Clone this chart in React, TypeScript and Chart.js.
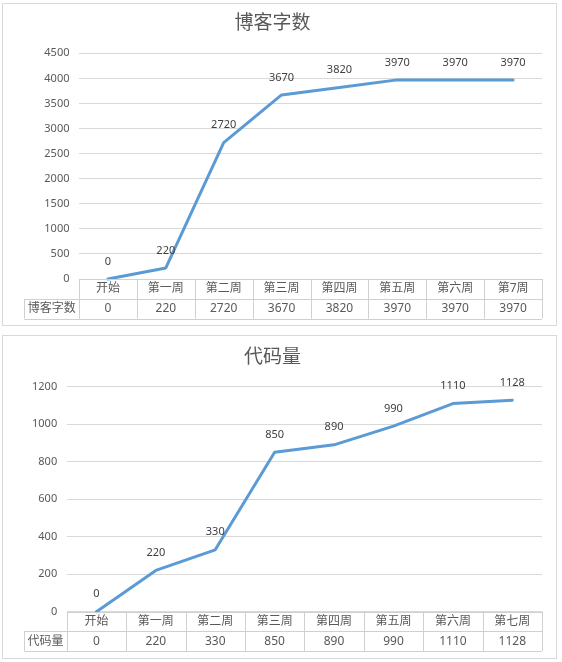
import { useEffect, useRef } from "react"
import { Chart, registerables } from "chart.js"

// Register Chart.js components
Chart.register(...registerables)

const blogWeeks = ["开始", "第一周", "第二周", "第三周", "第四周", "第五周", "第六周", "第7周"]
const blogWords = [0, 220, 2720, 3670, 3820, 3970, 3970, 3970]

const codeWeeks = ["开始", "第一周", "第二周", "第三周", "第四周", "第五周", "第六周", "第七周"]
const codeLines = [0, 220, 330, 850, 890, 990, 1110, 1128]

const FONT = "'Noto Sans', 'Noto Sans CJK SC', sans-serif"
const TEXT = "#595959"
const LABEL = "#404040"
const GRID = "#d9d9d9"
const TABLE_LINE = "#d0d0d0"
const LINE = "#5b9bd5"

const px = (v: number) => Math.round(v) + 0.5

// value labels above each point
const pointLabels = {
    id: "pointLabels",
    afterDatasetsDraw(chart: any) {
        const { ctx } = chart
        const meta = chart.getDatasetMeta(0)
        const values = chart.data.datasets[0].data as number[]
        ctx.save()
        ctx.fillStyle = LABEL
        ctx.font = `11px ${FONT}`
        ctx.textAlign = "center"
        ctx.textBaseline = "middle"
        meta.data.forEach((pt: any, i: number) => {
            ctx.fillText(String(values[i]), pt.x, pt.y - 17.5)
        })
        ctx.restore()
    },
}

// Excel-style data table under the plot
const dataTable = {
    id: "dataTable",
    afterDraw(chart: any, _args: any, opts: any) {
        const { ctx, chartArea } = chart
        const labels = chart.data.labels as string[]
        const values = chart.data.datasets[0].data as number[]
        const xScale = chart.scales.x
        const n = labels.length
        const colW = (chartArea.right - chartArea.left) / n
        const rowH = opts.rowHeight
        const top = chartArea.bottom
        const mid = top + rowH
        const bottom = mid + rowH
        const left = opts.headerLeft

        ctx.save()
        ctx.strokeStyle = TABLE_LINE
        ctx.lineWidth = 1
        ctx.beginPath()
        ctx.moveTo(chartArea.left, px(top))
        ctx.lineTo(chartArea.right, px(top))
        ctx.moveTo(left, px(mid))
        ctx.lineTo(chartArea.right, px(mid))
        ctx.moveTo(left, px(bottom))
        ctx.lineTo(chartArea.right, px(bottom))
        ctx.moveTo(px(left), mid)
        ctx.lineTo(px(left), bottom)
        for (let k = 0; k <= n; k++) {
            const x = px(chartArea.left + k * colW)
            ctx.moveTo(x, top)
            ctx.lineTo(x, bottom)
        }
        ctx.stroke()

        ctx.fillStyle = TEXT
        ctx.font = `12px ${FONT}`
        ctx.textAlign = "center"
        ctx.textBaseline = "middle"
        labels.forEach((label, i) => {
            const cx = xScale.getPixelForValue(i)
            ctx.fillText(label, cx, top + rowH / 2)
            ctx.fillText(String(values[i]), cx, mid + rowH / 2)
        })
        ctx.fillText(opts.rowName, (left + chartArea.left) / 2, mid + rowH / 2)
        ctx.restore()
    },
}

interface LineTableProps {
    title: string
    labels: string[]
    values: number[]
    max: number
    step: number
    top: number
    height: number
    axisWidth: number
    titleTop: number
    titleBottom: number
    bottomPad: number
    rowHeight: number
}

function LineTableChart(props: LineTableProps) {
    const chartRef = useRef<HTMLCanvasElement | null>(null)
    const chartInstance = useRef<Chart | null>(null)

    useEffect(() => {
        if (!chartRef.current) return
        if (chartInstance.current) chartInstance.current.destroy()
        const ctx = chartRef.current.getContext("2d")
        if (!ctx) return

        chartInstance.current = new Chart(ctx, {
            type: "line",
            data: {
                labels: props.labels,
                datasets: [
                    {
                        label: props.title,
                        data: props.values,
                        borderColor: LINE,
                        backgroundColor: LINE,
                        borderWidth: 3,
                        pointRadius: 0,
                        tension: 0,
                        fill: false,
                        clip: 6,
                        borderJoinStyle: "round",
                        borderCapStyle: "round",
                    },
                ],
            },
            options: {
                responsive: true,
                maintainAspectRatio: false,
                animation: false,
                layout: {
                    padding: { left: 0, right: 14, top: 0, bottom: props.bottomPad },
                },
                plugins: {
                    legend: { display: false },
                    tooltip: { enabled: false },
                    title: {
                        display: true,
                        text: props.title,
                        color: TEXT,
                        font: { family: FONT, size: 19, weight: "normal", lineHeight: 1.2 },
                        padding: { top: props.titleTop, bottom: props.titleBottom },
                    },
                    dataTable: {
                        rowName: props.title,
                        rowHeight: props.rowHeight,
                        headerLeft: 21.3,
                    },
                } as any,
                scales: {
                    x: {
                        display: false,
                        offset: true,
                    },
                    y: {
                        min: 0,
                        max: props.max,
                        border: { display: false },
                        grid: { color: GRID, lineWidth: 1, drawTicks: false },
                        ticks: {
                            stepSize: props.step,
                            color: TEXT,
                            padding: 9.5,
                            font: { family: FONT, size: 11 },
                            callback: (value: any) => String(value),
                        },
                        afterFit: (scale: any) => {
                            scale.width = props.axisWidth
                        },
                    },
                },
            },
            plugins: [pointLabels, dataTable],
        })

        return () => {
            if (chartInstance.current) {
                chartInstance.current.destroy()
                chartInstance.current = null
            }
        }
    }, [props])

    return (
        <div
            style={{
                position: "absolute",
                left: 2,
                top: props.top,
                width: 555,
                height: props.height,
                border: "1px solid #d9d9d9",
                boxSizing: "border-box",
                background: "#fff",
            }}
        >
            <div style={{ position: "relative", width: 553, height: props.height - 2 }}>
                <canvas ref={chartRef} />
            </div>
        </div>
    )
}

export default function App() {
    useEffect(() => {
        document.body.style.margin = "0"
    }, [])

    return (
        <div style={{ position: "relative", width: 562, height: 662, fontFamily: FONT }}>
            <LineTableChart
                title="博客字数"
                labels={blogWeeks}
                values={blogWords}
                max={4500}
                step={500}
                top={3}
                height={323}
                axisWidth={76}
                titleTop={7.9}
                titleBottom={18.6}
                bottomPad={46}
                rowHeight={19.8}
            />
            <LineTableChart
                title="代码量"
                labels={codeWeeks}
                values={codeLines}
                max={1200}
                step={200}
                top={335}
                height={324}
                axisWidth={63.7}
                titleTop={10.6}
                titleBottom={17.3}
                bottomPad={46.3}
                rowHeight={19.6}
            />
        </div>
    )
}
